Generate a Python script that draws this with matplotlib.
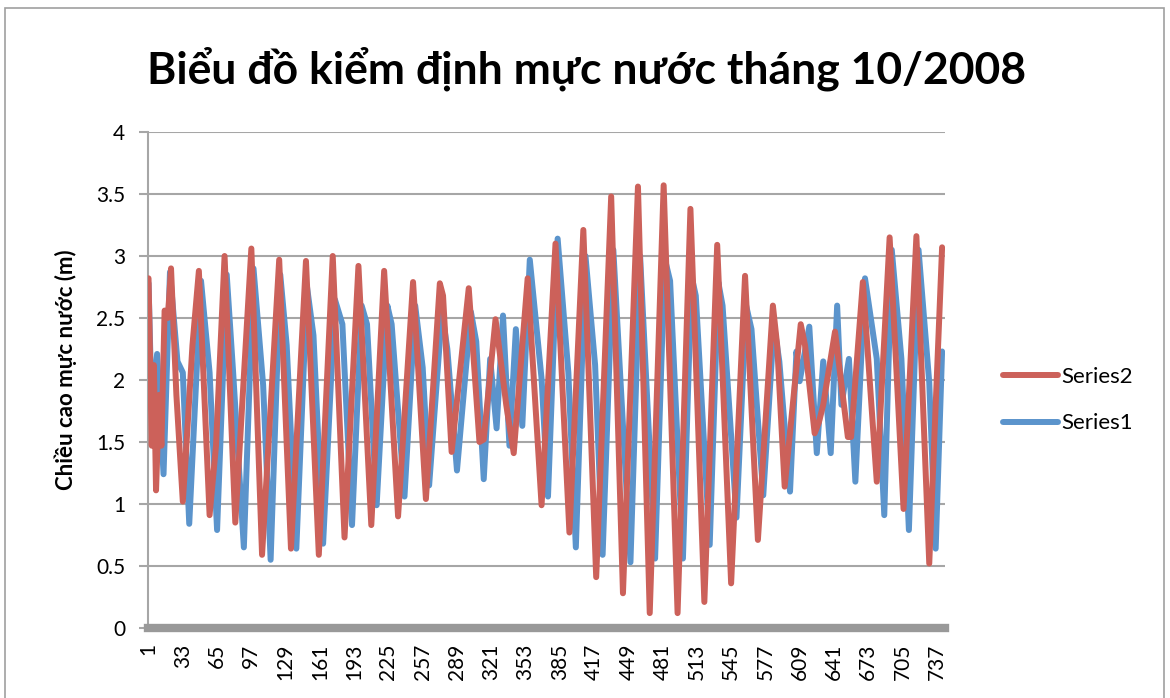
import matplotlib
matplotlib.use('Agg')
import matplotlib.pyplot as plt
from matplotlib.patches import Rectangle

plt.rcParams['font.family'] = ['Lato', 'Open Sans', 'DejaVu Sans']

# Series2 (red) - turning points (hour index, water level m)
red_idx = [1, 4, 6, 8, 11, 13, 16, 19, 22, 27, 33, 36, 42, 48, 58, 64, 72, 82, 97, 107,
           123, 134, 148, 160, 173, 184, 197, 209, 221, 234, 248, 260, 273, 276, 284, 300,
           310, 314, 325, 335, 342, 355, 368, 381, 394, 407, 419, 433, 444, 458, 469, 482,
           495, 507, 520, 532, 545, 558, 570, 584, 588, 595, 610, 614, 623, 627, 631, 642,
           654, 657, 668, 681, 693, 706, 718, 730, 742]
red_val = [2.82, 1.47, 2.12, 1.11, 1.88, 1.47, 2.56, 2.50, 2.90, 1.88, 1.02, 1.42, 2.28, 2.88,
           0.91, 1.47, 3.00, 0.85, 3.06, 0.59, 2.97, 0.64, 2.96, 0.59, 3.00, 0.73, 2.92, 0.83,
           2.88, 0.90, 2.79, 1.04, 2.78, 2.68, 1.42, 2.74, 1.50, 1.52, 2.49, 1.80, 1.41, 2.82,
           0.99, 3.10, 0.77, 3.21, 0.41, 3.48, 0.28, 3.56, 0.12, 3.57, 0.12, 3.38, 0.21, 3.09,
           0.36, 2.84, 0.71, 2.60, 2.28, 1.14, 2.45, 2.28, 1.57, 1.66, 1.80, 2.39, 1.54, 1.54,
           2.79, 1.18, 3.15, 0.96, 3.16, 0.52, 3.07]

# Series1 (blue)
blue_idx = [1, 4, 9, 15, 21, 28, 33, 39, 50, 58, 65, 74, 80, 90, 99, 108, 115, 124, 130, 139,
            149, 155, 164, 175, 182, 191, 200, 205, 214, 224, 228, 240, 250, 257, 263, 275,
            280, 289, 302, 307, 314, 320, 326, 332, 338, 344, 350, 357, 368, 374, 383, 393,
            400, 409, 418, 425, 435, 451, 460, 474, 483, 488, 500, 508, 512, 525, 533, 537,
            550, 559, 564, 575, 585, 590, 600, 606, 609, 618, 625, 631, 638, 644, 648, 655,
            661, 670, 681, 688, 695, 704, 711, 720, 730, 736, 742]
blue_val = [2.78, 1.75, 2.21, 1.24, 2.87, 2.15, 2.06, 0.84, 2.80, 2.06, 0.79, 2.85, 2.06, 0.65,
            2.90, 1.96, 0.55, 2.85, 2.28, 0.64, 2.75, 2.36, 0.68, 2.65, 2.45, 0.83, 2.60, 2.45,
            0.99, 2.60, 2.45, 1.06, 2.60, 2.10, 1.15, 2.55, 2.25, 1.27, 2.55, 2.31, 1.20, 2.17,
            1.61, 2.52, 1.47, 2.41, 1.63, 2.97, 2.01, 1.06, 3.14, 2.06, 0.65, 3.00, 2.12, 0.59,
            3.05, 0.53, 3.00, 0.56, 2.98, 2.80, 0.56, 2.84, 2.68, 0.67, 2.79, 2.60, 0.89, 2.60,
            2.41, 1.07, 2.45, 2.15, 1.10, 2.23, 1.99, 2.43, 1.41, 2.15, 1.41, 2.60, 1.80, 2.17,
            1.18, 2.82, 2.17, 0.91, 3.05, 2.17, 0.79, 3.05, 1.98, 0.64, 2.23]

xtick_labels = list(range(1, 745, 32))
ytick_vals = [0, 0.5, 1, 1.5, 2, 2.5, 3, 3.5, 4]

fig = plt.figure(figsize=(11.7, 6.98), dpi=100)
ax = fig.add_axes([0.1265, 0.1003, 0.681, 0.7106])

ax.plot(blue_idx, blue_val, color='#5B94CC', lw=4.3, solid_joinstyle='round',
        solid_capstyle='round', label='Series1', zorder=3)
ax.plot(red_idx, red_val, color='#CC615A', lw=4.3, solid_joinstyle='round',
        solid_capstyle='round', label='Series2', zorder=4)

ax.set_xlim(0.5, 744.5)
ax.set_ylim(0, 4)
ax.set_yticks(ytick_vals)
ax.set_yticklabels(['0', '0.5', '1', '1.5', '2', '2.5', '3', '3.5', '4'], fontsize=15)
ax.set_xticks(xtick_labels)
ax.set_xticklabels([str(v) for v in xtick_labels], rotation=90, fontsize=15)
ax.grid(axis='y', color='#A6A6A6', lw=1.5)
ax.set_axisbelow(True)
for s in ['top', 'right']:
    ax.spines[s].set_visible(False)
ax.spines['left'].set_color('#A6A6A6')
ax.spines['left'].set_linewidth(1.5)
ax.spines['bottom'].set_color('#999999')
ax.spines['bottom'].set_linewidth(6)
ax.tick_params(axis='y', length=6.5, color='#A6A6A6', width=1.5, pad=10)
ax.tick_params(axis='x', length=0, pad=11)

ax.set_ylabel('Chiều cao mực nước (m)', fontsize=16, fontweight='bold')
ax.yaxis.set_label_coords(-0.089, 0.52)
fig.text(0.501, 0.902, 'Biểu đồ kiểm định mực nước tháng 10/2008', fontsize=32,
         fontweight='bold', ha='center', va='center')

handles, labels = ax.get_legend_handles_labels()
fig.legend(handles[::-1], labels[::-1], loc='center left', bbox_to_anchor=(0.840, 0.427),
           frameon=False, fontsize=16, handlelength=2.5, labelspacing=1.2, handletextpad=0.15)

fig.patches.append(Rectangle((0.004, -0.01), 0.991, 0.999, transform=fig.transFigure,
                             fill=False, edgecolor='#A0A0A0', lw=1.2))

fig.savefig('out.png', dpi=100)
